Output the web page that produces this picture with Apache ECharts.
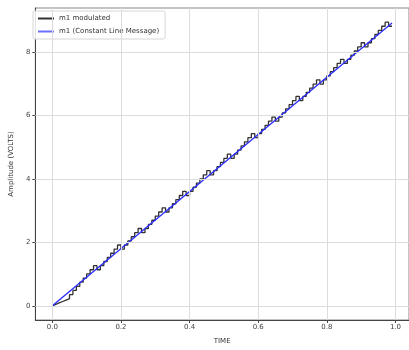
<!DOCTYPE html>
<html>
<head>
<meta charset="utf-8">
<script src="https://cdn.jsdelivr.net/npm/echarts@6/dist/echarts.min.js"></script>
<style>
html,body{margin:0;padding:0;background:#fff;}
#chart{width:409px;height:350px;}
</style>
</head>
<body>
<div id="chart"></div>
<script>
// Sample times (TIME axis)
const time = [0,0.01,0.02,0.03,0.04,0.05,0.06,0.07,0.08,0.09,
  0.10,0.11,0.12,0.13,0.14,0.15,0.16,0.17,0.18,0.19,
  0.20,0.21,0.22,0.23,0.24,0.25,0.26,0.27,0.28,0.29,
  0.30,0.31,0.32,0.33,0.34,0.35,0.36,0.37,0.38,0.39,
  0.40,0.41,0.42,0.43,0.44,0.45,0.46,0.47,0.48,0.49,
  0.50,0.51,0.52,0.53,0.54,0.55,0.56,0.57,0.58,0.59,
  0.60,0.61,0.62,0.63,0.64,0.65,0.66,0.67,0.68,0.69,
  0.70,0.71,0.72,0.73,0.74,0.75,0.76,0.77,0.78,0.79,
  0.80,0.81,0.82,0.83,0.84,0.85,0.86,0.87,0.88,0.89,
  0.90,0.91,0.92,0.93,0.94,0.95,0.96,0.97,0.98,0.99];
// m1 modulated (staircase) values
const modulated = [0,0.045,0.09,0.135,0.18,0.225,0.355,0.485,0.615,0.745,
  0.875,1.005,1.135,1.265,1.135,1.265,1.395,1.525,1.655,1.785,
  1.915,1.785,1.915,2.045,2.175,2.305,2.435,2.305,2.435,2.565,
  2.695,2.825,2.955,3.085,2.955,3.085,3.215,3.345,3.475,3.605,
  3.475,3.605,3.735,3.865,3.995,4.125,4.255,4.125,4.255,4.385,
  4.515,4.645,4.775,4.645,4.775,4.905,5.035,5.165,5.295,5.425,
  5.295,5.425,5.555,5.685,5.815,5.945,5.815,5.945,6.075,6.205,
  6.335,6.465,6.595,6.465,6.595,6.725,6.855,6.985,7.115,6.985,
  7.115,7.245,7.375,7.505,7.635,7.765,7.635,7.765,7.895,8.025,
  8.155,8.285,8.155,8.285,8.415,8.545,8.675,8.805,8.935,8.805];
// m1 constant line message
const messageTime = [0, 0.99];
const message = [0, 8.91];
// Ticks
const xTicks = [0, 0.2, 0.4, 0.6, 0.8, 1.0];
const yTicks = [0, 2, 4, 6, 8];
const seriesNames = ['m1 modulated', 'm1 (Constant Line Message)'];

const font = 'DejaVu Sans';
const gridColor = '#dcdcdc';
const chart = echarts.init(document.getElementById('chart'), null, {renderer: 'canvas'});
chart.setOption({
  animation: false,
  backgroundColor: '#fff',
  grid: {left: 31, right: -4, top: 8, bottom: 24, show: true, borderColor: '#888', borderWidth: 1, backgroundColor: 'transparent'},
  legend: {
    data: seriesNames,
    orient: 'vertical',
    left: 33, top: 11,
    icon: 'rect',
    itemWidth: 16, itemHeight: 2, itemGap: 6,
    padding: [4, 6, 4, 5],
    backgroundColor: 'rgba(255,255,255,0.85)',
    borderColor: '#d6d6d6', borderWidth: 1, borderRadius: 2,
    textStyle: {fontFamily: font, fontSize: 7, color: '#333'}
  },
  xAxis: {
    type: 'value', min: -0.0495, max: 1.0395,
    name: 'TIME', nameLocation: 'middle', nameGap: 18,
    nameTextStyle: {fontFamily: font, fontSize: 7, color: '#333'},
    axisLine: {show: true, onZero: false, lineStyle: {color: '#444', width: 1}},
    axisTick: {show: true, length: 3, lineStyle: {color: '#444'}, customValues: xTicks},
    axisLabel: {fontFamily: font, fontSize: 7, color: '#444', margin: 4, customValues: xTicks, formatter: v => v.toFixed(1)},
    splitLine: {show: false}
  },
  yAxis: {
    type: 'value', min: -0.447, max: 9.38,
    name: 'Amplitude (VOLTS)', nameLocation: 'middle', nameGap: 18, nameRotate: 90,
    nameTextStyle: {fontFamily: font, fontSize: 7, color: '#333'},
    axisLine: {show: true, onZero: false, lineStyle: {color: '#444', width: 1}},
    axisTick: {show: true, length: 3, lineStyle: {color: '#444'}, customValues: yTicks},
    axisLabel: {fontFamily: font, fontSize: 7, color: '#444', margin: 5, customValues: yTicks, formatter: v => String(Math.round(v))},
    splitLine: {show: false}
  },
  series: [
    {
      name: 'grid', type: 'line', data: [], silent: true, z: 0,
      markLine: {
        silent: true, symbol: ['none', 'none'], animation: false,
        label: {show: false},
        lineStyle: {color: gridColor, type: 'solid', width: 1},
        emphasis: {disabled: true},
        data: xTicks.map(v => ({xAxis: v})).concat(yTicks.map(v => ({yAxis: v})))
      }
    },
    {
      name: seriesNames[0], type: 'line', step: 'start', symbol: 'none',
      data: time.map((t, i) => [t, modulated[i]]),
      lineStyle: {color: '#333', width: 1.3}, itemStyle: {color: '#333'}, z: 2
    },
    {
      name: seriesNames[1], type: 'line', symbol: 'none',
      data: messageTime.map((t, i) => [t, message[i]]),
      lineStyle: {color: '#2a2aff', width: 1.3}, itemStyle: {color: '#6f6fff'}, z: 3
    }
  ]
});
</script>
</body>
</html>
